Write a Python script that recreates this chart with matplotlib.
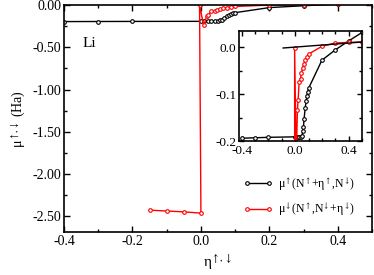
import matplotlib
matplotlib.use("Agg")
import matplotlib.pyplot as plt
from matplotlib.ticker import MultipleLocator, FormatStrFormatter

plt.rcParams['font.family'] = ['Liberation Serif', 'DejaVu Serif']
plt.rcParams['mathtext.fontset'] = 'stix'
plt.rcParams['axes.unicode_minus'] = False

# black series: mu_up(N_up+eta_up, N_down)
eta_up = [-0.4, -0.3, -0.2, 0.0, 0.01, 0.02, 0.03, 0.04, 0.05, 0.057, 0.062, 0.067,
          0.075, 0.082, 0.088, 0.095, 0.1, 0.2, 0.3, 0.4, 0.5]
mu_up = [-0.194, -0.193, -0.192, -0.191, -0.191, -0.191, -0.191, -0.191, -0.19, -0.179,
         -0.17, -0.152, -0.13, -0.115, -0.104, -0.096, -0.088, -0.028, -0.006, 0.013, 0.031]

# red series: mu_down(N_up, N_down+eta_down)
eta_dn = [-0.15, -0.1, -0.05, 0.0, -0.004, 0.008, 0.017, 0.022, 0.03, 0.04, 0.047, 0.055,
          0.065, 0.075, 0.087, 0.1, 0.2, 0.3, 0.4, 0.5]
mu_dn = [-2.43, -2.44, -2.45, -2.465, -0.001, -0.24, -0.133, -0.113, -0.074, -0.067, -0.056,
         -0.045, -0.036, -0.028, -0.021, -0.015, 0.0015, 0.0085, 0.01, 0.011]

# straight reference line in inset
line_x = [-0.09, 0.5]
line_y = [-0.002, 0.0107]

lab_up = 'μ$^{\\uparrow}$(N$^{\\uparrow}$+η$^{\\uparrow}$,N$^{\\downarrow}$)'
lab_dn = 'μ$^{\\downarrow}$(N$^{\\uparrow}$,N$^{\\downarrow}$+η$^{\\downarrow}$)'

fig = plt.figure(figsize=(3.74, 2.75), dpi=100)
ax = fig.add_axes([0.171, 0.156, 0.824, 0.825])

mk = dict(marker='o', markersize=2.6, markerfacecolor='white', markeredgewidth=0.8, lw=1.0)
ax.plot(eta_up, mu_up, color='black', label=lab_up, **mk)
ax.plot(eta_dn, mu_dn, color='red', label=lab_dn, **mk)

ax.set_xlim(-0.4, 0.5)
ax.set_ylim(-2.69, 0.0)
ax.xaxis.set_major_locator(MultipleLocator(0.2))
ax.xaxis.set_minor_locator(MultipleLocator(0.1))
ax.yaxis.set_major_locator(MultipleLocator(0.5))
ax.yaxis.set_minor_locator(MultipleLocator(0.25))
ax.xaxis.set_major_formatter(FormatStrFormatter('%.1f'))
ax.yaxis.set_major_formatter(FormatStrFormatter('%.2f'))
ax.tick_params(which='both', direction='in', top=True, right=True, labelsize=10, pad=2)
ax.tick_params(which='major', length=4, width=1)
ax.tick_params(which='minor', length=2.5, width=1)
for s in ax.spines.values():
    s.set_linewidth(1.2)

ax.set_xlabel('η$^{\\uparrow,\\downarrow}$', fontsize=11, labelpad=3)
ax.set_ylabel('μ$^{\\uparrow,\\downarrow}$ (Ha)', fontsize=10, labelpad=3)
ax.text(-0.345, -0.45, 'Li', fontsize=11, va='center', ha='left')

leg = ax.legend(loc='lower right', bbox_to_anchor=(0.98, 0.015), frameon=False, fontsize=8.5,
                numpoints=2, handlelength=2.4, handletextpad=0.5, labelspacing=0.75)

# inset
ins = fig.add_axes([0.639, 0.487, 0.329, 0.4])
ins.plot(eta_up, mu_up, color='black', **mk)
ins.plot(eta_dn, mu_dn, color='red', **mk)
ins.plot(line_x, line_y, color='black', lw=1.0)
ins.set_xlim(-0.42, 0.5)
ins.set_ylim(-0.2, 0.034)
ins.xaxis.set_major_locator(MultipleLocator(0.4))
ins.xaxis.set_minor_locator(MultipleLocator(0.1))
ins.yaxis.set_major_locator(MultipleLocator(0.1))
ins.yaxis.set_minor_locator(MultipleLocator(0.05))
ins.xaxis.set_major_formatter(FormatStrFormatter('%.1f'))
ins.yaxis.set_major_formatter(FormatStrFormatter('%.1f'))
ins.tick_params(which='both', direction='in', top=True, right=True, labelsize=9.5)
ins.tick_params(axis='x', pad=3)
ins.tick_params(axis='y', pad=2)
ins.tick_params(which='major', length=3.5, width=1)
ins.tick_params(which='minor', length=2, width=1)
for s in ins.spines.values():
    s.set_linewidth(1.2)

fig.savefig('out.png', dpi=100)
